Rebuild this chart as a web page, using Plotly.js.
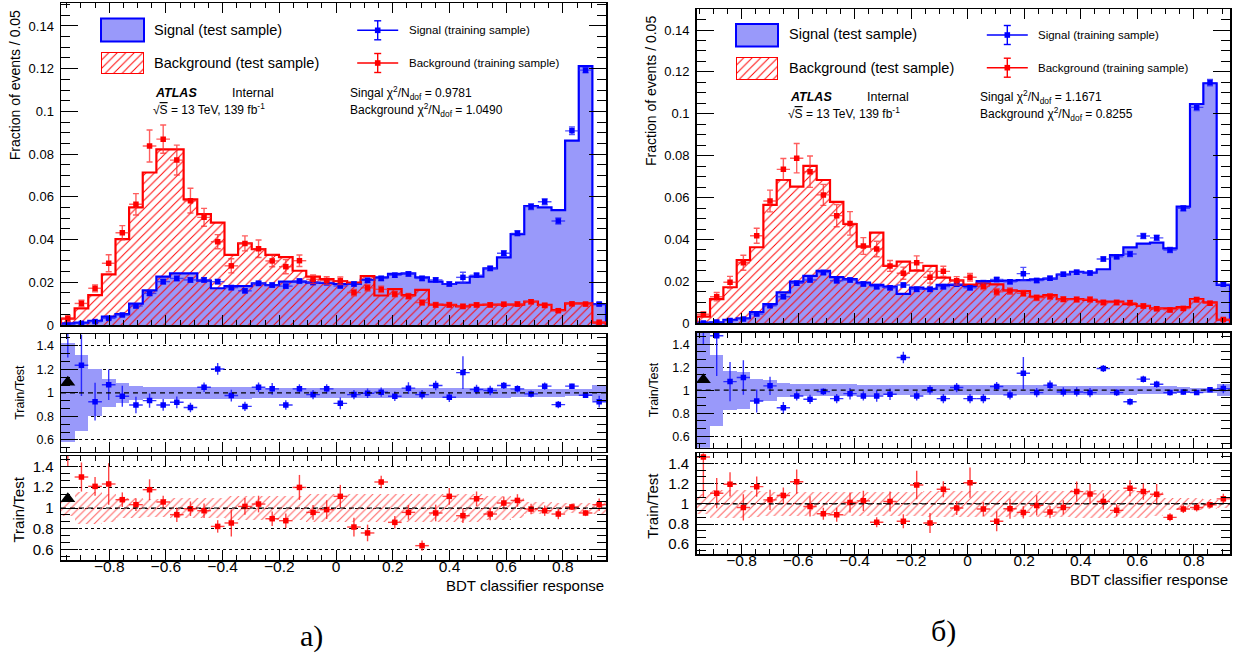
<!DOCTYPE html>
<html>
<head>
<meta charset="utf-8">
<script src="https://cdn.plot.ly/plotly-3.0.1.min.js"></script>
<style>
  html, body { margin: 0; padding: 0; background: #fff; }
  #chart { width: 1253px; height: 664px; }
</style>
</head>
<body>
<div id="chart"></div>
<script>
// ---------------------------------------------------------------------------
// BDT classifier response: test vs training samples, two trainings (а, б)
// ---------------------------------------------------------------------------
const W = 1253, H = 664;
const NBINS = 40;

// BDT response range covered by the 40 bins of each training
const A_RANGE = [-0.970, 0.952];
const B_RANGE = [-0.9586, 0.928];

// ---- training а -----------------------------------------------------------
const aSigTest = [0.0008,0.0011,0.0020,0.0039,0.0051,0.0100,0.0162,0.0226,0.0242,0.0242,
  0.0208,0.0172,0.0182,0.0182,0.0195,0.0187,0.0203,0.0203,0.0198,0.0197,
  0.0192,0.0192,0.0211,0.0223,0.0239,0.0242,0.0223,0.0203,0.0192,0.0198,
  0.0226,0.0265,0.0317,0.0425,0.0557,0.0551,0.0538,0.0863,0.1212,0.0098];
const aSigTrain = [0.0004,0.0008,0.0016,0.0031,0.0047,0.0089,0.0148,0.0203,0.0218,0.0211,
  0.0211,0.0203,0.0175,0.0160,0.0195,0.0187,0.0182,0.0206,0.0199,0.0198,
  0.0183,0.0192,0.0209,0.0218,0.0233,0.0239,0.0218,0.0211,0.0192,0.0223,
  0.0233,0.0265,0.0336,0.0429,0.0554,0.0577,0.0487,0.0909,0.1193,0.0098];
const aSigTrainErr = [0.0003,0.0003,0.0004,0.0005,0.0006,0.0008,0.0010,0.0011,0.0011,0.0011,
  0.0011,0.0010,0.0010,0.0009,0.0010,0.0010,0.0009,0.0010,0.0010,0.0010,
  0.0010,0.0010,0.0010,0.0010,0.0010,0.0010,0.0010,0.0010,0.0010,0.0024,
  0.0010,0.0010,0.0012,0.0012,0.0014,0.0014,0.0014,0.0018,0.0012,0.0008];
const aBkgTest = [0.0030,0.0078,0.0140,0.0237,0.0402,0.0551,0.0714,0.0822,0.0822,0.0588,
  0.0519,0.0479,0.0328,0.0382,0.0355,0.0328,0.0318,0.0254,0.0226,0.0215,
  0.0205,0.0198,0.0229,0.0138,0.0168,0.0140,0.0164,0.0095,0.0094,0.0087,
  0.0094,0.0095,0.0095,0.0095,0.0110,0.0094,0.0070,0.0101,0.0101,0.0011];
const aBkgTrain = [0.0031,0.0101,0.0172,0.0289,0.0432,0.0565,0.0838,0.0870,0.0772,0.0582,
  0.0504,0.0390,0.0277,0.0382,0.0357,0.0300,0.0273,0.0301,0.0214,0.0208,
  0.0207,0.0152,0.0174,0.0167,0.0145,0.0135,0.0105,0.0094,0.0094,0.0087,
  0.0094,0.0094,0.0097,0.0098,0.0109,0.0092,0.0067,0.0099,0.0098,0.0013];
const aBkgTrainErr = [0.0015,0.0015,0.0016,0.0040,0.0033,0.0050,0.0075,0.0066,0.0070,0.0058,
  0.0042,0.0033,0.0033,0.0035,0.0041,0.0027,0.0033,0.0027,0.0020,0.0018,
  0.0018,0.0015,0.0015,0.0015,0.0013,0.0013,0.0012,0.0011,0.0011,0.0010,
  0.0010,0.0010,0.0010,0.0010,0.0010,0.0010,0.0008,0.0008,0.0008,0.0005];
const aSigRatio = [1.80,1.234,0.925,1.069,0.971,0.897,0.934,0.897,0.920,0.876,
  1.048,1.203,0.977,0.885,1.048,1.034,0.897,1.034,0.985,1.034,
  0.911,0.985,0.997,1.006,0.971,1.040,0.985,1.063,0.963,1.172,
  1.028,1.020,1.063,1.034,0.991,1.057,0.900,1.057,0.980,0.925];
const aSigRatioErr = [0.50,0.26,0.16,0.13,0.09,0.07,0.06,0.05,0.05,0.04,
  0.04,0.05,0.05,0.04,0.04,0.05,0.04,0.04,0.04,0.04,
  0.05,0.04,0.04,0.04,0.04,0.05,0.04,0.04,0.04,0.14,
  0.04,0.04,0.03,0.03,0.03,0.03,0.03,0.02,0.015,0.05];
const aSigBand = [0.42,0.32,0.20,0.12,0.085,0.06,0.05,0.05,0.05,0.05,
  0.05,0.05,0.05,0.05,0.045,0.045,0.045,0.045,0.045,0.045,
  0.045,0.045,0.045,0.045,0.045,0.045,0.045,0.045,0.045,0.045,
  0.04,0.04,0.04,0.035,0.035,0.035,0.035,0.03,0.03,0.07];
const aBkgRatio = [1.70,1.298,1.208,1.231,1.080,1.032,1.176,1.058,0.936,0.993,
  0.974,0.823,0.856,1.015,1.038,0.897,0.878,1.198,0.958,0.984,
  1.112,0.817,0.760,1.250,0.862,0.958,0.638,0.952,1.112,0.926,
  1.089,0.942,1.048,1.073,0.990,0.974,0.942,1.010,0.952,1.032];
const aBkgRatioErr = [0.30,0.14,0.09,0.20,0.07,0.06,0.10,0.06,0.07,0.07,
  0.07,0.06,0.13,0.08,0.08,0.07,0.07,0.12,0.07,0.09,
  0.11,0.09,0.08,0.06,0.06,0.07,0.05,0.08,0.08,0.07,
  0.07,0.06,0.06,0.06,0.05,0.05,0.05,0.03,0.03,0.06];
const aBkgBand = [0.08,0.15,0.15,0.13,0.10,0.10,0.09,0.09,0.10,0.10,
  0.10,0.10,0.12,0.12,0.12,0.12,0.12,0.12,0.13,0.13,
  0.13,0.13,0.13,0.13,0.13,0.13,0.13,0.13,0.13,0.13,
  0.13,0.12,0.12,0.10,0.06,0.06,0.05,0.05,0.05,0.06];
const aChi2 = ['0.9781', '1.0490'];

// ---- training б -----------------------------------------------------------
const bSigTest = [0.0003,0.0005,0.0016,0.0024,0.0053,0.0092,0.0148,0.0199,0.0226,0.0250,
  0.0220,0.0211,0.0194,0.0183,0.0175,0.0140,0.0170,0.0164,0.0183,0.0183,
  0.0178,0.0202,0.0202,0.0204,0.0206,0.0210,0.0213,0.0233,0.0246,0.0242,
  0.0258,0.0326,0.0362,0.0380,0.0385,0.0358,0.0557,0.1047,0.1146,0.0183];
const bSigTrain = [0.0002,0.0006,0.0013,0.0021,0.0044,0.0084,0.0127,0.0191,0.0207,0.0242,
  0.0203,0.0207,0.0188,0.0175,0.0170,0.0183,0.0162,0.0162,0.0175,0.0187,
  0.0170,0.0194,0.0209,0.0198,0.0237,0.0204,0.0215,0.0234,0.0244,0.0240,
  0.0307,0.0318,0.0331,0.0417,0.0408,0.0350,0.0549,0.1031,0.1149,0.0186];
const bSigTrainErr = [0.0003,0.0004,0.0005,0.0006,0.0007,0.0008,0.0009,0.0010,0.0010,0.0010,
  0.0010,0.0010,0.0010,0.0010,0.0010,0.0010,0.0010,0.0010,0.0010,0.0010,
  0.0010,0.0010,0.0010,0.0010,0.0030,0.0010,0.0010,0.0010,0.0010,0.0010,
  0.0010,0.0010,0.0012,0.0012,0.0012,0.0012,0.0013,0.0015,0.0015,0.0008];
const bBkgTest = [0.0032,0.0115,0.0172,0.0302,0.0363,0.0565,0.0684,0.0652,0.0752,0.0684,
  0.0580,0.0474,0.0366,0.0433,0.0274,0.0294,0.0251,0.0274,0.0218,0.0205,
  0.0185,0.0191,0.0186,0.0157,0.0154,0.0127,0.0135,0.0115,0.0115,0.0112,
  0.0103,0.0103,0.0092,0.0083,0.0071,0.0071,0.0077,0.0116,0.0100,0.0017];
const bBkgTrain = [0.0043,0.0127,0.0196,0.0289,0.0418,0.0584,0.0735,0.0788,0.0724,0.0613,
  0.0514,0.0477,0.0369,0.0355,0.0274,0.0239,0.0289,0.0220,0.0248,0.0203,
  0.0220,0.0177,0.0150,0.0154,0.0143,0.0122,0.0128,0.0115,0.0114,0.0114,
  0.0099,0.0099,0.0098,0.0083,0.0070,0.0064,0.0071,0.0113,0.0096,0.0018];
const bBkgTrainErr = [0.0010,0.0020,0.0028,0.0036,0.0036,0.0052,0.0052,0.0070,0.0075,0.0050,
  0.0053,0.0056,0.0040,0.0037,0.0026,0.0029,0.0033,0.0028,0.0024,0.0020,
  0.0018,0.0016,0.0015,0.0015,0.0014,0.0013,0.0013,0.0012,0.0012,0.0012,
  0.0011,0.0011,0.0011,0.0010,0.0009,0.0009,0.0009,0.0012,0.0010,0.0005];
const bSigRatio = [1.90,1.474,1.075,1.110,0.907,1.038,0.848,0.950,0.921,0.988,
  0.927,0.970,0.950,0.950,0.965,1.285,0.950,1.003,0.927,1.023,
  0.927,0.927,1.032,0.959,1.148,0.979,1.044,0.985,0.985,0.979,
  1.189,0.979,0.900,1.096,1.052,0.979,0.985,0.979,1.003,1.014];
const bSigRatioErr = [0.50,0.35,0.17,0.15,0.10,0.08,0.05,0.04,0.04,0.03,
  0.04,0.05,0.04,0.05,0.05,0.05,0.04,0.04,0.04,0.04,
  0.04,0.04,0.04,0.04,0.14,0.04,0.04,0.04,0.04,0.04,
  0.03,0.03,0.03,0.03,0.03,0.025,0.025,0.02,0.015,0.04];
const bSigBand = [0.60,0.31,0.17,0.16,0.10,0.09,0.06,0.05,0.05,0.05,
  0.05,0.05,0.045,0.045,0.045,0.045,0.045,0.045,0.045,0.045,
  0.045,0.045,0.045,0.045,0.045,0.045,0.045,0.04,0.04,0.04,
  0.04,0.04,0.04,0.035,0.035,0.035,0.025,0.02,0.02,0.05];
const bBkgRatio = [1.464,1.105,1.193,0.964,1.170,1.039,1.082,1.219,0.974,0.902,
  0.892,1.013,1.029,0.817,1.023,0.827,1.186,0.810,1.144,0.958,
  1.209,0.948,0.827,0.951,0.915,0.984,0.918,0.964,1.121,1.098,
  1.023,0.935,1.154,1.121,1.095,0.866,0.948,0.964,0.990,1.049];
const bBkgRatioErr = [0.40,0.15,0.12,0.13,0.10,0.10,0.08,0.12,0.10,0.06,
  0.07,0.10,0.10,0.05,0.10,0.07,0.14,0.10,0.08,0.07,
  0.15,0.07,0.10,0.10,0.06,0.10,0.06,0.07,0.10,0.10,
  0.08,0.06,0.08,0.08,0.10,0.04,0.04,0.04,0.03,0.05];
const bBkgBand = [0.10,0.14,0.14,0.14,0.13,0.12,0.12,0.12,0.12,0.12,
  0.12,0.12,0.12,0.12,0.12,0.12,0.12,0.13,0.13,0.13,
  0.13,0.13,0.13,0.13,0.13,0.13,0.13,0.13,0.14,0.14,
  0.14,0.14,0.14,0.14,0.12,0.06,0.06,0.06,0.05,0.04];
const bChi2 = ['1.1671', '0.8255'];

// ---- styling -------------------------------------------------------------
const FONT = 'Liberation Sans, Arial, Helvetica, sans-serif';
const BLUE = '#0000ff', RED = '#ff0000';
const BLUE_FILL = '#9999fa';
const RATIO_RANGE = [0.5, 1.5];
const OOR_MARK = 1.09;          // where out-of-range ratio points are flagged

const px = v => v / W;
const py = v => 1 - v / H;

function binWidth(r) { return (r[1] - r[0]) / NBINS; }
function binCenters(r) {
  const w = binWidth(r);
  return Array.from({length: NBINS}, (_, i) => r[0] + (i + 0.5) * w);
}
function binEdges(r) {
  const w = binWidth(r);
  return Array.from({length: NBINS + 1}, (_, i) => r[0] + i * w);
}

const axisBase = {
  ticks: 'inside', tickcolor: '#000', tickwidth: 1,
  showline: true, linecolor: '#000', linewidth: 1.5, mirror: 'ticks',
  showgrid: false, zeroline: false, fixedrange: true,
  tickfont: {family: FONT, size: 13, color: '#000'}
};

function xAxis(domPx, range, anchor, labels) {
  return Object.assign({}, axisBase, {
    domain: [px(domPx[0]), px(domPx[1])], range, anchor,
    tick0: 0, dtick: 0.2, ticklen: 10,
    minor: {ticks: 'inside', ticklen: 5, tick0: 0, dtick: 0.05, tickcolor: '#000', tickwidth: 1},
    showticklabels: labels, ticklabelstandoff: -8,
    tickfont: {family: FONT, size: 15.5, color: '#000'}
  });
}
function yMain(domPx, top, anchor) {
  return Object.assign({}, axisBase, {
    domain: [py(domPx[1]), py(domPx[0])], range: [0, top], anchor,
    tick0: 0, dtick: 0.02, ticklen: 17,
    minor: {ticks: 'inside', ticklen: 9, tick0: 0, dtick: 0.005, tickcolor: '#000', tickwidth: 1},
    tickfont: {family: FONT, size: 13, color: '#000'}, ticklabelstandoff: 3
  });
}
function yRatio(domPx, anchor, fontSize) {
  return Object.assign({}, axisBase, {
    domain: [py(domPx[1]), py(domPx[0])], range: RATIO_RANGE, anchor,
    tick0: 0.6, dtick: 0.2, ticklen: 17,
    minor: {ticks: 'inside', ticklen: 9, tick0: 0.6, dtick: 0.2 / 3, tickcolor: '#000', tickwidth: 1},
    showgrid: true, gridcolor: '#000', gridwidth: 1, griddash: 'dot',
    tickfont: {family: FONT, size: fontSize, color: '#000'}, ticklabelstandoff: 3
  });
}

const traces = [];
const shapes = [];
const annotations = [];

function ann(text, x, y, size, opts) {
  annotations.push(Object.assign({
    text, x: px(x), y: py(y), xref: 'paper', yref: 'paper',
    xanchor: 'left', yanchor: 'middle', showarrow: false,
    font: {family: FONT, size, color: '#000'}
  }, opts || {}));
}

function stepLine(r, vals, color, xa, ya) {
  const e = binEdges(r);
  const x = [e[0]].concat(e.slice(0, NBINS)).concat([e[NBINS], e[NBINS]]);
  const y = [0].concat(vals).concat([vals[NBINS - 1], 0]);
  return {type: 'scatter', mode: 'lines', x, y, xaxis: xa, yaxis: ya,
          line: {color, width: 2.2, shape: 'hv'}, hoverinfo: 'skip', cliponaxis: true};
}

function trainPoints(r, vals, errs, color, errColor, xa, ya, caps) {
  return {type: 'scatter', mode: 'markers', x: binCenters(r), y: vals, xaxis: xa, yaxis: ya,
    marker: {symbol: 'square', size: 5.5, color},
    error_x: {type: 'constant', value: binWidth(r) / 2, width: 0, color: errColor, thickness: 1.4},
    error_y: {type: 'data', array: errs, width: caps, color: errColor, thickness: 1.4},
    hoverinfo: 'skip', cliponaxis: true};
}

function outOfRange(r, vals, xa, ya) {
  const c = binCenters(r);
  const x = [], y = [];
  vals.forEach((v, i) => {
    if (v < RATIO_RANGE[0] || v > RATIO_RANGE[1]) { x.push(c[i]); y.push(OOR_MARK); }
  });
  return {type: 'scatter', mode: 'markers', x, y, xaxis: xa, yaxis: ya,
          marker: {symbol: 'triangle-up', size: 13, color: '#000'}, hoverinfo: 'skip', cliponaxis: false};
}

function legendTrainGlyph(cx, cy, halfLen, lo, hi, color) {
  const ln = (x0, y0, x1, y1) => shapes.push({type: 'line', xref: 'paper', yref: 'paper',
    x0: px(x0), y0: py(y0), x1: px(x1), y1: py(y1), line: {color, width: 1.4}});
  ln(cx - halfLen, cy, cx + halfLen, cy);
  ln(cx, lo, cx, hi);
  ln(cx - 3.5, lo, cx + 3.5, lo);
  ln(cx - 3.5, hi, cx + 3.5, hi);
  shapes.push({type: 'rect', xref: 'paper', yref: 'paper',
    x0: px(cx - 2.8), x1: px(cx + 2.8), y0: py(cy - 2.8), y1: py(cy + 2.8),
    fillcolor: color, line: {width: 0}});
}

const layout = {
  width: W, height: H, margin: {l: 0, r: 0, t: 0, b: 0},
  paper_bgcolor: '#fff', plot_bgcolor: 'rgba(0,0,0,0)',
  showlegend: false, barmode: 'overlay', bargap: 0,
  font: {family: FONT, color: '#000'}
};

function buildPanel(p) {
  const [xm, xr1, xr2] = p.xa;
  const [ym, yr1, yr2] = p.ya;
  const yKey = a => a.replace('y', 'yaxis');
  const xKey = a => a.replace('x', 'xaxis');

  layout[xKey(xm)]  = xAxis(p.xPx, p.range, ym, false);
  layout[xKey(xr1)] = xAxis(p.xPx, p.range, yr1, false);
  layout[xKey(xr2)] = xAxis(p.xPx, p.range, yr2, true);
  layout[yKey(ym)]  = yMain(p.mainPx, p.yTop, xm);
  layout[yKey(yr1)] = yRatio(p.r1Px, xr1, 12.5);
  layout[yKey(yr2)] = yRatio(p.r2Px, xr2, 15);

  const c = binCenters(p.range), w = binWidth(p.range);
  const widths = c.map(() => w);

  // main panel: test-sample histograms
  traces.push({type: 'bar', x: c, y: p.sigTest, width: widths, xaxis: xm, yaxis: ym,
    marker: {color: BLUE_FILL, line: {width: 0}}, hoverinfo: 'skip'});
  traces.push({type: 'bar', x: c, y: p.bkgTest, width: widths, xaxis: xm, yaxis: ym,
    marker: {color: 'rgba(0,0,0,0)', line: {width: 0},
      pattern: {shape: '/', fgcolor: RED, bgcolor: 'rgba(0,0,0,0)', size: 6, solidity: 0.16}},
    hoverinfo: 'skip'});
  traces.push(stepLine(p.range, p.sigTest, BLUE, xm, ym));
  traces.push(stepLine(p.range, p.bkgTest, RED, xm, ym));
  // training-sample points
  traces.push(trainPoints(p.range, p.sigTrain, p.sigTrainErr, BLUE, 'rgba(40,40,255,0.8)', xm, ym, 3));
  traces.push(trainPoints(p.range, p.bkgTrain, p.bkgTrainErr, RED, 'rgba(255,40,40,0.75)', xm, ym, 3));

  // signal ratio panel
  traces.push({type: 'bar', x: c, y: p.sigBand.map(b => 2 * b), base: p.sigBand.map(b => 1 - b),
    width: widths, xaxis: xr1, yaxis: yr1,
    marker: {color: BLUE_FILL, line: {width: 0}}, hoverinfo: 'skip'});
  traces.push(trainPoints(p.range, p.sigRatio, p.sigRatioErr, BLUE, 'rgba(20,20,255,0.85)', xr1, yr1, 0));
  traces.push(outOfRange(p.range, p.sigRatio, xr1, yr1));

  // background ratio panel
  traces.push({type: 'bar', x: c, y: p.bkgBand.map(b => 2 * b), base: p.bkgBand.map(b => 1 - b),
    width: widths, xaxis: xr2, yaxis: yr2,
    marker: {color: 'rgba(0,0,0,0)', line: {width: 0},
      pattern: {shape: '/', fgcolor: 'rgba(255,60,60,0.85)', bgcolor: 'rgba(0,0,0,0)', size: 5.5, solidity: 0.18}},
    hoverinfo: 'skip'});
  traces.push(trainPoints(p.range, p.bkgRatio, p.bkgRatioErr, RED, 'rgba(255,20,20,0.8)', xr2, yr2, 0));
  traces.push(outOfRange(p.range, p.bkgRatio, xr2, yr2));

  // dashed unity lines
  [[xr1, yr1], [xr2, yr2]].forEach(([xa, ya]) => shapes.push({
    type: 'line', xref: xa + ' domain', yref: ya, x0: 0, x1: 1, y0: 1, y1: 1,
    line: {color: '#000', width: 1.2, dash: '5px,4px'}, layer: 'above'}));

  // legend: test-sample boxes
  const L = p.legend;
  shapes.push({type: 'rect', xref: 'paper', yref: 'paper',
    x0: px(L.boxX[0]), x1: px(L.boxX[1]), y0: py(L.sigBoxY[1]), y1: py(L.sigBoxY[0]),
    fillcolor: BLUE_FILL, line: {color: BLUE, width: 2}});
  layout[xKey(p.legAx[0])] = {domain: [px(L.boxX[0]), px(L.boxX[1])], range: [0, 1], visible: false, fixedrange: true};
  layout[yKey(p.legAx[1])] = {domain: [py(L.bkgBoxY[1]), py(L.bkgBoxY[0])], range: [0, 1], visible: false, fixedrange: true};
  traces.push({type: 'bar', x: [0.5], y: [1], width: [1], xaxis: p.legAx[0], yaxis: p.legAx[1],
    marker: {color: 'rgba(0,0,0,0)', line: {color: RED, width: 2},
      pattern: {shape: '/', fgcolor: RED, bgcolor: 'rgba(0,0,0,0)', size: 6, solidity: 0.16}},
    hoverinfo: 'skip', cliponaxis: false});
  ann('Signal (test sample)', L.textX, L.sigY, 14.5);
  ann('Background (test sample)', L.textX, L.bkgY, 14.5);

  // legend: training-sample entries
  legendTrainGlyph(L.trX, L.trSigY, 20.5, L.trSigY - 9.5, L.trSigY + 9.5, BLUE);
  legendTrainGlyph(L.trX, L.trBkgY, 20.5, L.trBkgY - 9.5, L.trBkgY + 9.5, RED);
  ann('Signal (training sample)', L.trTextX, L.trSigY, 11.5);
  ann('Background (training sample)', L.trTextX, L.trBkgY, 11.5);

  // labels
  ann('<b><i>ATLAS</i></b>', L.atlasX, L.atlasY, 12.5);
  ann('Internal', L.atlasX + 77, L.atlasY, 12.5);
  ann('√<span style="text-decoration:overline">S</span> = 13 TeV, 139 fb<sup>-1</sup>', L.atlasX - 2, L.atlasY + 16, 12);
  ann('Singal χ<sup>2</sup>/N<sub>dof</sub> = ' + p.chi2[0], L.chiX, L.atlasY, 12);
  ann('Background χ<sup>2</sup>/N<sub>dof</sub> = ' + p.chi2[1], L.chiX, L.atlasY + 16.5, 12);

  // axis titles
  ann('Fraction of events / 0.05', p.titleX.main, p.mainPx[0] + 5, 14,
      {textangle: -90, xanchor: 'center', yanchor: 'top'});
  ann('Train/Test', p.titleX.r1, (p.r1Px[0] + p.r1Px[1]) / 2, 12.5,
      {textangle: -90, xanchor: 'center', yanchor: 'middle'});
  ann('Train/Test', p.titleX.r2, (p.r2Px[0] + p.r2Px[1]) / 2 + 2, 15,
      {textangle: -90, xanchor: 'center', yanchor: 'middle'});
  ann('BDT classifier response', p.xPx[1], p.xTitleY, 15, {xanchor: 'right'});

  // panel tag
  ann(p.tag, p.tagPos[0], p.tagPos[1], 30,
      {xanchor: 'center', font: {family: 'Liberation Serif, DejaVu Serif, serif', size: 30, color: '#000'}});
}

buildPanel({
  tag: 'а)', tagPos: [311, 636],
  range: A_RANGE, xa: ['x', 'x2', 'x3'], ya: ['y', 'y2', 'y3'], legAx: ['x7', 'y7'],
  xPx: [61, 606], mainPx: [3.3, 325], r1Px: [334, 451.7], r2Px: [456, 560], yTop: 0.1506,
  sigTest: aSigTest, bkgTest: aBkgTest, sigTrain: aSigTrain, sigTrainErr: aSigTrainErr,
  bkgTrain: aBkgTrain, bkgTrainErr: aBkgTrainErr,
  sigRatio: aSigRatio, sigRatioErr: aSigRatioErr, sigBand: aSigBand,
  bkgRatio: aBkgRatio, bkgRatioErr: aBkgRatioErr, bkgBand: aBkgBand,
  chi2: aChi2,
  titleX: {main: 15, r1: 20, r2: 17.5}, xTitleY: 585,
  legend: {boxX: [101, 144], sigBoxY: [18.5, 41.5], bkgBoxY: [52, 74], textX: 152, sigY: 30, bkgY: 63,
           trX: 377.7, trSigY: 30.3, trBkgY: 63, trTextX: 406.5,
           atlasX: 152.5, atlasY: 93.3, chiX: 348}
});

buildPanel({
  tag: 'б)', tagPos: [943, 631],
  range: B_RANGE, xa: ['x4', 'x5', 'x6'], ya: ['y4', 'y5', 'y6'], legAx: ['x8', 'y8'],
  xPx: [696.7, 1230], mainPx: [9.3, 323.3], r1Px: [332.7, 447.7], r2Px: [453.3, 554.3], yTop: 0.1499,
  sigTest: bSigTest, bkgTest: bBkgTest, sigTrain: bSigTrain, sigTrainErr: bSigTrainErr,
  bkgTrain: bBkgTrain, bkgTrainErr: bBkgTrainErr,
  sigRatio: bSigRatio, sigRatioErr: bSigRatioErr, sigBand: bSigBand,
  bkgRatio: bBkgRatio, bkgRatioErr: bBkgRatioErr, bkgBand: bBkgBand,
  chi2: bChi2,
  titleX: {main: 651.7, r1: 654, r2: 653}, xTitleY: 579,
  legend: {boxX: [736, 778], sigBoxY: [24, 46.5], bkgBoxY: [57, 80], textX: 787, sigY: 34.5, bkgY: 68,
           trX: 1007.3, trSigY: 35, trBkgY: 67.7, trTextX: 1036,
           atlasX: 788, atlasY: 97, chiX: 978.3}
});

layout.shapes = shapes;
layout.annotations = annotations;

Plotly.newPlot('chart', traces, layout, {staticPlot: true, displayModeBar: false});
</script>
</body>
</html>
